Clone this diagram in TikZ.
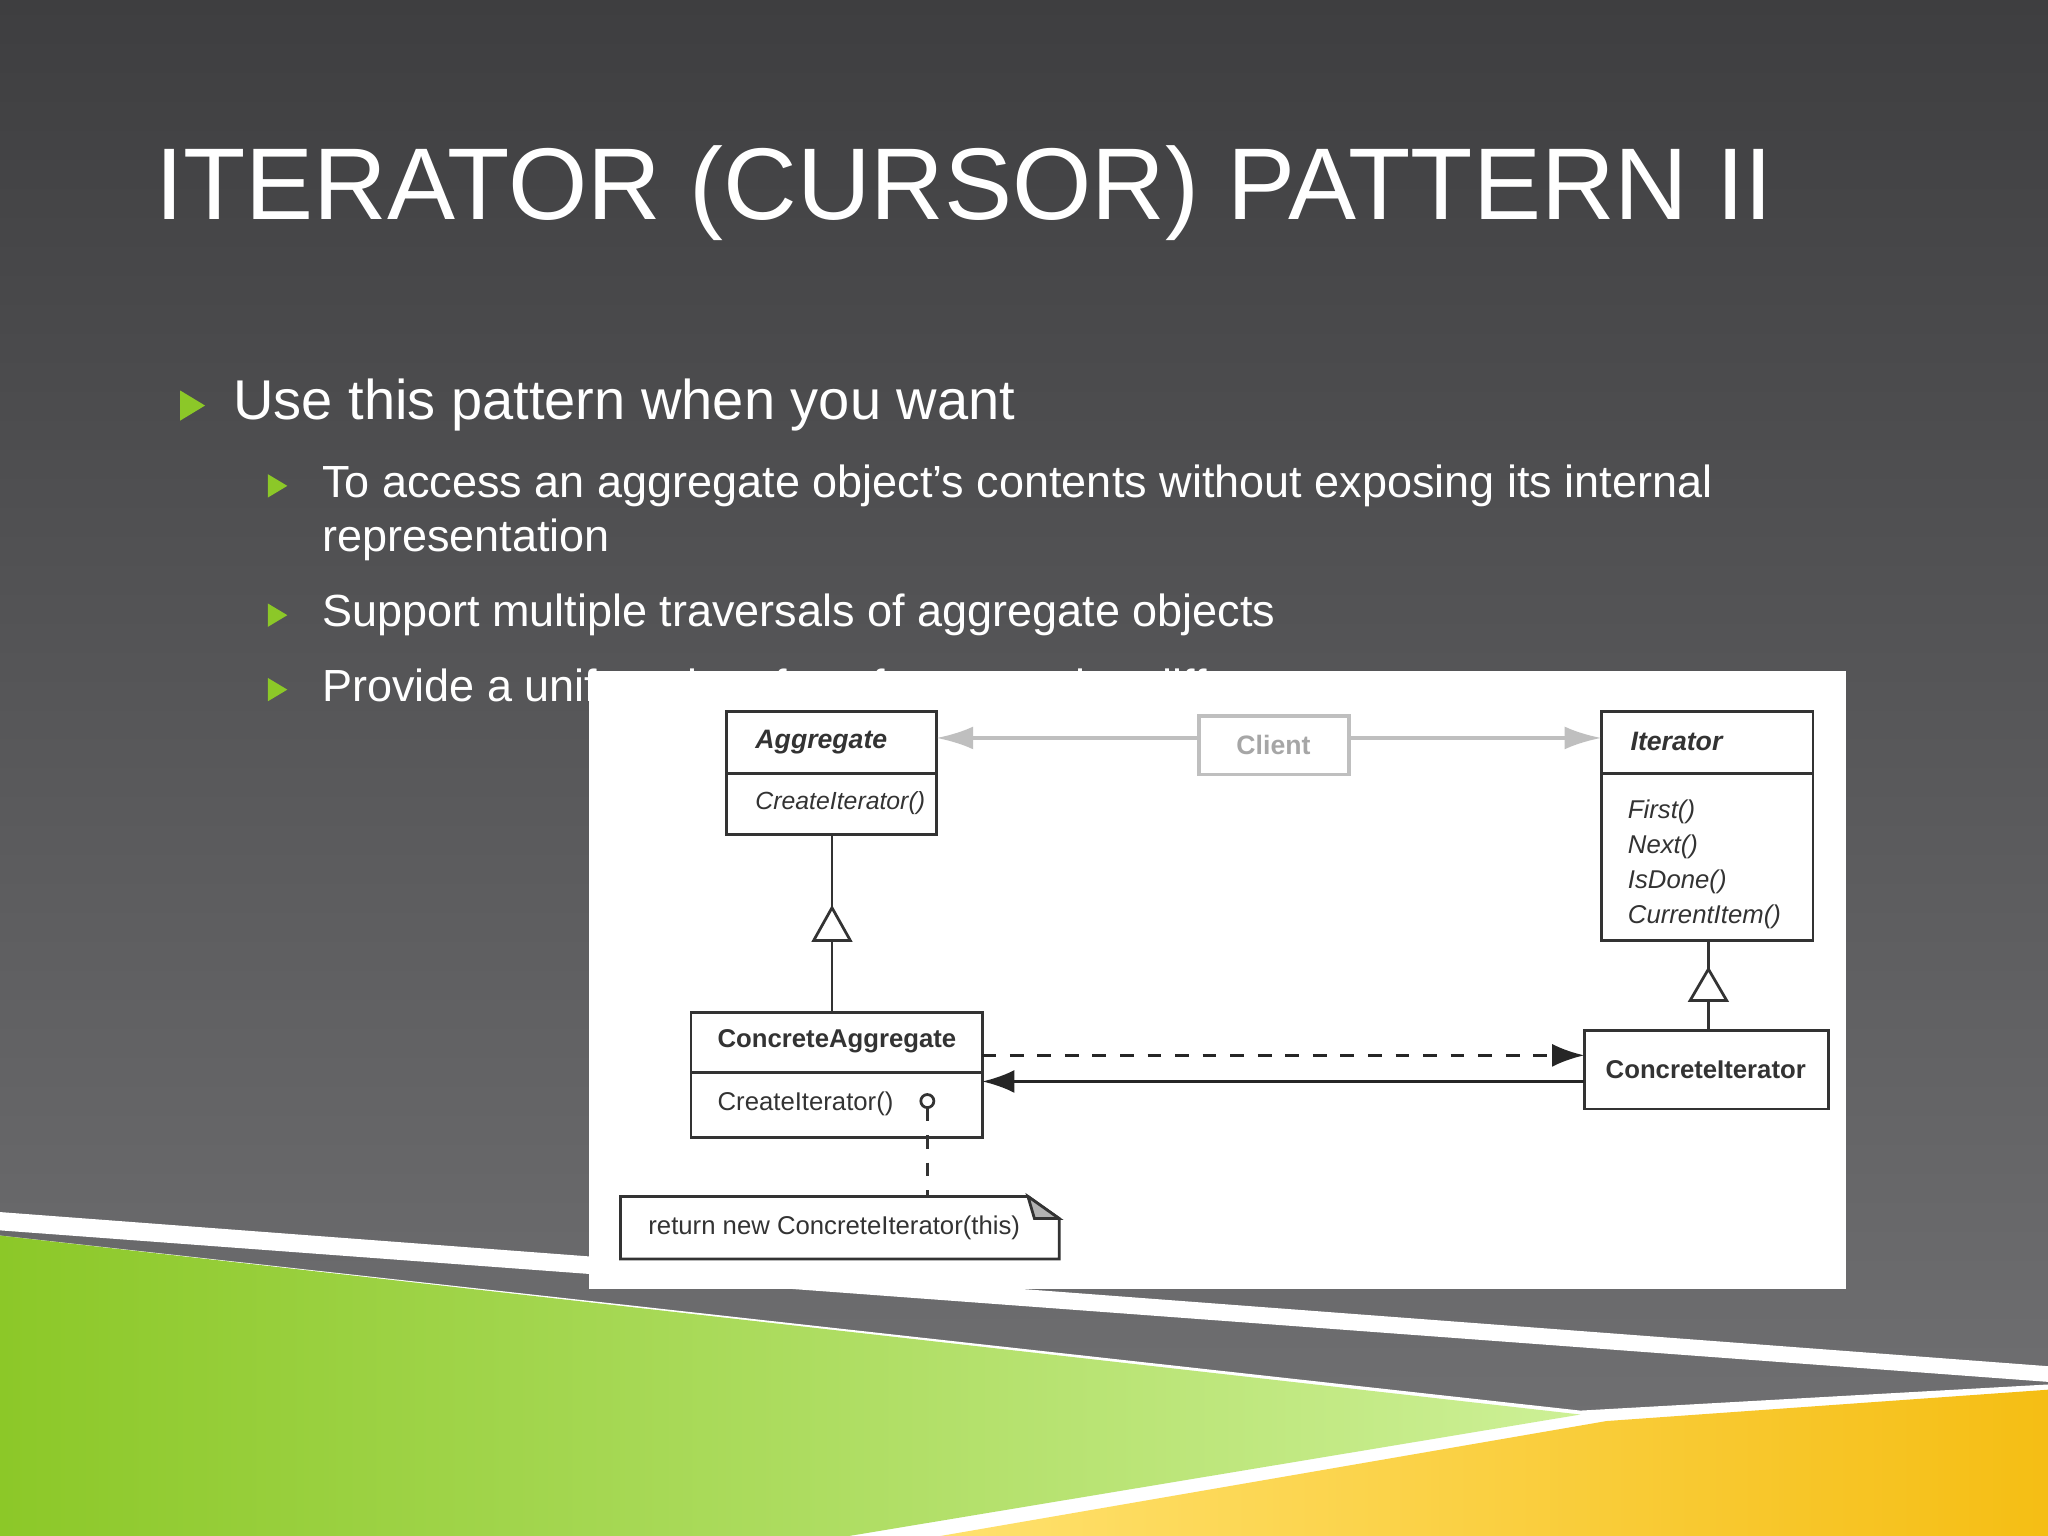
\documentclass[tikz,border=0pt]{standalone}
\usepackage{fontspec}
\setmainfont{Liberation Sans}
\usetikzlibrary{arrows.meta}
\definecolor{bggray}{RGB}{62,62,64}
\definecolor{bglight}{RGB}{115,115,117}
\definecolor{gr}{RGB}{140,200,40}
\definecolor{grl}{RGB}{205,240,150}
\definecolor{yl}{RGB}{245,190,20}
\definecolor{yll}{RGB}{255,225,110}
\definecolor{bul}{RGB}{140,200,40}
\begin{document}
\begin{tikzpicture}[x=0.01cm,y=-0.01cm,
  cls/.style={draw=black!80,line width=0.6pt,fill=white},
  sm/.style={font=\fontsize{5.6}{6.5}\selectfont,text=black!80},
  tx/.style={anchor=west,inner sep=0pt,text=white},
  bl/.style={fill=bul,draw=none}]
\useasboundingbox (0,0) rectangle (1568,1176);
\shade[top color=bggray,bottom color=bglight] (0,0) rectangle (1568,1176);
% bottom bands
\fill[white] (0,928) -- (1568,1046) -- (1568,1058) -- (0,942) -- cycle;
\fill[white] (0,946) -- (1210,1080) -- (1568,1060) -- (1568,1176) -- (0,1176) -- cycle;
\shade[left color=gr,right color=grl] (0,946) -- (1210,1083) -- (650,1176) -- (0,1176) -- cycle;
\shade[left color=yll,right color=yl] (1568,1064) -- (1568,1176) -- (720,1176) -- (1230,1088) -- cycle;
% title
\node[tx,font=\fontsize{22.2}{26}\selectfont] (title) at (118,148) {ITERATOR (CURSOR) PATTERN II};
% bullets
\fill[bl] (138,299) -- (138,322) -- (157,310.5) -- cycle;
\node[tx,font=\fontsize{12.2}{14}\selectfont] (b1) at (178,310) {Use this pattern when you want};
\foreach \y in {372,471,528}{\fill[bl] (205,\y-9) -- (205,\y+9) -- (220,\y) -- cycle;}
\node[tx,font=\fontsize{9.8}{11}\selectfont] (b2) at (246,372) {To access an aggregate object’s contents without exposing its internal};
\node[tx,font=\fontsize{9.8}{11}\selectfont] (b2b) at (246,413) {representation};
\node[tx,font=\fontsize{9.8}{11}\selectfont] (b3) at (246,471) {Support multiple traversals of aggregate objects};
\node[tx,font=\fontsize{9.8}{11}\selectfont] (b4) at (246,528) {Provide a uniform interface for traversing different aggregate structures};
% diagram panel
\fill[white] (451,514) rectangle (1413,987);
% Aggregate
\draw[cls] (556,545) rectangle (717,639); \draw[black!80,line width=0.6pt] (556,592) -- (717,592);
\node[sm,anchor=west,font=\fontsize{5.8}{6.5}\selectfont\bfseries\itshape] (agg) at (566,568) {Aggregate};
\node[sm,anchor=west,font=\fontsize{5.4}{6.5}\selectfont\itshape] (aggm) at (566,615) {CreateIterator()};
% Client
\draw[draw=black!25,line width=0.8pt,fill=white] (918,548) rectangle (1033,593);
\node[sm,text=black!35,font=\fontsize{5.8}{6.5}\selectfont\bfseries] (client) at (975,570) {Client};
% Iterator
\draw[cls] (1226,545) rectangle (1388,720); \draw[black!80,line width=0.6pt] (1226,592) -- (1388,592);
\node[sm,anchor=west,font=\fontsize{5.8}{6.5}\selectfont\bfseries\itshape] (it) at (1236,568) {Iterator};
\node[sm,anchor=north west,align=left,font=\fontsize{5.6}{7.6}\selectfont\itshape] (itm) at (1234,600) {First()\\Next()\\IsDone()\\CurrentItem()};
% ConcreteAggregate
\draw[cls] (529,775) rectangle (752,871); \draw[black!80,line width=0.6pt] (529,821) -- (752,821);
\node[sm,anchor=west,font=\fontsize{5.6}{6.5}\selectfont\bfseries] (ca) at (537,797) {ConcreteAggregate};
\node[sm,anchor=west] (cam) at (537,845) {CreateIterator()};
% ConcreteIterator
\draw[cls] (1213,789) rectangle (1400,849);
\node[sm,font=\fontsize{5.6}{6.5}\selectfont\bfseries] (ci) at (1306,819) {ConcreteIterator};
% note
\draw[cls] (475,916) -- (787,916) -- (811,933) -- (811,964) -- (475,964) -- cycle;
\draw[black!80,line width=0.6pt,fill=black!30] (787,916) -- (811,933) -- (792,933) -- cycle;
\node[sm,anchor=west] (note) at (484,940) {return new ConcreteIterator(this)};
% connectors
\draw[black!25,line width=0.8pt,-{Latex[length=8pt,width=5pt]}] (918,565) -- (717,565);
\draw[black!25,line width=0.8pt,-{Latex[length=8pt,width=5pt]}] (1033,565) -- (1226,565);
\draw[black!80,line width=0.6pt] (637,639) -- (637,775);
\draw[black!80,line width=0.6pt,fill=white] (637,695) -- (623,720) -- (651,720) -- cycle;
\draw[black!80,line width=0.6pt] (1308,720) -- (1308,789);
\draw[black!80,line width=0.6pt,fill=white] (1308,742) -- (1294,766) -- (1322,766) -- cycle;
\draw[black!85,line width=0.7pt,dashed,-{Latex[length=7pt,width=5pt]}] (752,808) -- (1213,808);
\draw[black!85,line width=0.7pt,-{Latex[length=7pt,width=5pt]}] (1213,828) -- (752,828);
\draw[black!80,line width=0.6pt] (710,843) circle (5);
\draw[black!80,line width=0.6pt,dashed] (710,848) -- (710,916);
\end{tikzpicture}
\end{document}
